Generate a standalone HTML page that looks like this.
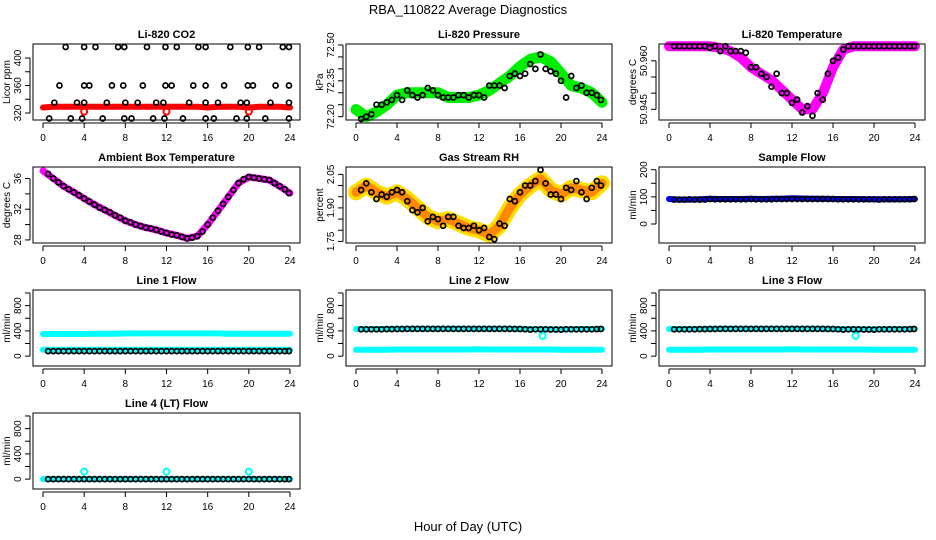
<!DOCTYPE html>
<html><head><meta charset="utf-8">
<style>
html,body{margin:0;padding:0;background:#fff;}
svg{display:block;font-family:"Liberation Sans",Arial,sans-serif;}
</style></head>
<body>
<svg id="chart" width="936" height="540" viewBox="0 0 936 540" xmlns="http://www.w3.org/2000/svg">
<text x="468" y="14" text-anchor="middle" font-size="13">RBA_110822  Average Diagnostics</text>
<text x="468" y="531" text-anchor="middle" font-size="13">Hour of Day (UTC)</text>
</svg>
<script>
// ---- data ----
const xTicks = [0,4,8,12,16,20,24];
const bandHours = [0,1,2,3,4,5,6,7,8,9,10,11,12,13,14,15,16,17,18,19,20,21,22,23,24];
const blackHours = [0.5,1,1.5,2,2.5,3,3.5,4,4.5,5,5.5,6,6.5,7,7.5,8,8.5,9,9.5,10,10.5,11,11.5,12,12.5,13,13.5,14,14.5,15,15.5,16,16.5,17,17.5,18,18.5,19,19.5,20,20.5,21,21.5,22,22.5,23,23.5,23.9];

const co2Band = [328,329,329,329,329,329,329,329,329,329,329,329,329,329,329,329,328,329,329,329,328,329,329,329,328];
const co2BlackHours = [2.2,4,5.1,7.3,7.9,10.1,11.9,13,15.1,15.8,18.2,19.9,21,23.3,23.9,1.6,4,4.5,6.7,7.8,9.7,11.9,12.5,14.6,15.8,17.6,19.9,20.4,22.6,23.9,1.1,3.3,4,6.2,8,9.2,11,11.7,14.2,15.8,17,19.2,19.8,22.1,23.9,0.6,2.7,3.8,5.8,7.9,8.6,10.7,11.8,13.6,15.8,16.6,18.8,19.8,21.6,23.9];
const co2Black = [416,416,416,416,416,416,416,416,416,416,416,416,416,416,416,360,360,360,360,360,360,360,360,360,360,360,360,360,360,360,335,335,335,335,335,335,335,335,335,335,335,335,335,335,335,312,312,312,312,312,312,312,312,312,312,312,312,312,312,312];
const co2OutlierHours = [4,12,20];
const co2Outliers = [322,322,322];

const presBand = [72.23,72.20,72.22,72.25,72.29,72.30,72.30,72.30,72.30,72.28,72.28,72.28,72.29,72.31,72.34,72.37,72.41,72.44,72.45,72.43,72.38,72.33,72.32,72.30,72.26];
const presBlack = [72.19,72.20,72.21,72.25,72.25,72.26,72.27,72.29,72.27,72.31,72.29,72.28,72.29,72.32,72.31,72.29,72.28,72.28,72.28,72.29,72.29,72.28,72.29,72.29,72.28,72.33,72.33,72.33,72.32,72.37,72.38,72.37,72.38,72.42,72.40,72.46,72.40,72.39,72.38,72.35,72.28,72.37,72.32,72.33,72.30,72.30,72.29,72.27];

const tempBand = [50.9645,50.9645,50.9645,50.9645,50.9645,50.964,50.963,50.961,50.958,50.956,50.954,50.951,50.948,50.945,50.945,50.950,50.958,50.9635,50.9645,50.9645,50.9645,50.9645,50.9645,50.9645,50.9645];
const tempBlack = [50.9645,50.9645,50.9645,50.9645,50.9645,50.9645,50.9645,50.964,50.9645,50.963,50.9645,50.963,50.963,50.963,50.9625,50.958,50.958,50.956,50.955,50.952,50.956,50.950,50.950,50.947,50.948,50.944,50.946,50.943,50.950,50.948,50.956,50.960,50.961,50.9635,50.9645,50.9645,50.9645,50.9645,50.9645,50.9645,50.9645,50.9645,50.9645,50.9645,50.9645,50.9645,50.9645,50.9645];

const ambBand = [37.0,36.0,35.0,34.2,33.4,32.6,31.9,31.2,30.5,30.0,29.6,29.3,28.9,28.6,28.2,28.5,30.0,31.8,33.6,35.4,36.2,36.0,35.8,35.0,34.1];
const ambBlack = [36.6,36.0,35.5,35.0,34.6,34.2,33.8,33.4,33.0,32.6,32.2,31.9,31.6,31.2,30.9,30.5,30.3,30.0,29.8,29.6,29.5,29.3,29.1,28.9,28.7,28.6,28.4,28.2,28.3,28.5,29.1,30.0,30.9,31.8,32.7,33.6,34.5,35.4,35.9,36.2,36.1,36.0,35.9,35.8,35.4,35.0,34.6,34.1];

const rhBand = [1.97,2.00,1.97,1.95,1.97,1.94,1.90,1.86,1.84,1.85,1.83,1.81,1.80,1.78,1.82,1.90,1.96,2.00,2.03,1.98,1.96,1.99,1.98,1.97,2.01];
const rhBlack = [1.98,2.01,1.97,1.94,1.96,1.95,1.97,1.98,1.97,1.93,1.89,1.88,1.90,1.84,1.86,1.85,1.82,1.86,1.86,1.82,1.81,1.81,1.82,1.80,1.81,1.77,1.76,1.83,1.82,1.94,1.93,1.97,2.00,2.00,2.02,2.07,2.01,1.96,1.96,1.94,1.99,1.98,2.02,1.97,1.94,1.99,2.02,2.00];

const sampleBand = [92,90,90,91,93,92,92,92,93,92,93,93,95,94,93,93,92,92,92,91,91,91,91,91,92];
const sampleBlack = [90,90,90,91,90,90,90,92,91,91,91,91,91,91,91,92,91,91,91,91,92,92,92,92,92,92,92,92,92,92,92,92,91,91,91,91,91,91,91,91,90,91,91,91,91,91,91,92];

const line1HighBand = [350,350,350,350,350,355,355,355,360,360,360,360,360,360,360,360,360,360,355,355,355,355,355,355,355];
const line1LowBand = [100,100,100,100,100,100,100,100,100,100,100,100,100,100,100,100,100,100,100,100,100,100,100,100,100];
const line1Black = [80,80,80,80,80,80,80,80,80,80,80,80,80,80,80,80,80,80,80,80,80,80,80,80,80,80,80,80,80,80,80,80,80,80,80,80,80,80,80,80,80,80,80,80,80,80,80,80];

const line2HighBand = [430,430,430,430,435,435,435,435,435,435,435,435,435,435,435,435,430,430,425,425,425,425,430,430,430];
const line2LowBand = [100,100,100,100,105,105,105,105,105,105,105,105,110,105,105,105,105,105,105,105,100,100,100,100,100];
const line2Black = [425,425,425,425,425,428,428,430,430,432,432,432,432,432,432,432,432,432,432,432,432,432,432,432,432,432,432,432,432,432,430,430,425,420,425,425,425,422,422,420,425,425,425,425,425,425,428,430];
const line2DipHours = [18.2];
const line2Dip = [320];

const line4Band = [0,0,0,0,0,0,0,0,0,0,0,0,0,0,0,0,0,0,0,0,0,0,0,0,0];
const line4Black = [0,0,0,0,0,0,0,0,0,0,0,0,0,0,0,0,0,0,0,0,0,0,0,0,0,0,0,0,0,0,0,0,0,0,0,0,0,0,0,0,0,0,0,0,0,0,0,0];
const line4SpikeHours = [4,12,20];
const line4Spikes = [120,120,120];

// ---- layout ----
const NS = "http://www.w3.org/2000/svg";
const svg = document.getElementById('chart');
const colL = [33,346,659], colR = [300,612,925];
const rowT = [44,167,290,413], H = 76;

function mk(tag, attrs, parent){
  const e = document.createElementNS(NS, tag);
  for (const k in attrs) e.setAttribute(k, attrs[k]);
  (parent||svg).appendChild(e);
  return e;
}

function panel(o){
  const L = colL[o.col], R = colR[o.col], T = rowT[o.row], B = T + H;
  const g = mk('g', {});
  
  
  const xs = h => (L + 10) + h / 24 * (R - L - 20);
  const ys = v => B - (v - o.ylim[0]) / (o.ylim[1] - o.ylim[0]) * H;
  (o.bands||[]).forEach(b => {
    const pts = b.vals.map((v,i) => xs(bandHours[i]).toFixed(1) + ',' + ys(v).toFixed(1)).join(' ');
    const pl = mk('polyline', {points: pts, fill:'none', stroke:b.color, 'stroke-width':b.w, 'stroke-linecap':'round', 'stroke-linejoin':'round'}, g);
    
    
  });
  (o.extras||[]).forEach(ex => {
    ex.vals.forEach((v,i) => {
      const c = mk('circle', {cx: xs(ex.hours[i]), cy: ys(v), r: 3, fill:'none', stroke: ex.color, 'stroke-width': 2}, g);
      
      
    });
  });
  if (o.black){
    const hrs = o.blackHours || blackHours;
    o.black.forEach((v,i) => {
      const c = mk('circle', {cx: xs(hrs[i]), cy: ys(v), r: 2.5, fill:'none', stroke:'#000', 'stroke-width': 1.7}, g);
      
      
    });
  }
  const box = mk('rect', {x:L, y:T, width:R-L, height:H, fill:'none', stroke:'#000', 'stroke-width':1}, g);
  
  
  const xa = mk('g', {}, g);
  
  
  mk('line', {x1:xs(0), x2:xs(24), y1:B+3, y2:B+3, stroke:'#000'}, xa);
  xTicks.forEach(t => {
    mk('line', {x1:xs(t), x2:xs(t), y1:B+3, y2:B+8, stroke:'#000'}, xa);
    const tx = mk('text', {x:xs(t), y:B+21, 'text-anchor':'middle', 'font-size':10}, xa);
    tx.textContent = t;
    
    
  });
  const ya = mk('g', {}, g);
  
  
  const yt = o.yticks;
  mk('line', {x1:L-3, x2:L-3, y1:ys(yt[0]), y2:ys(yt[yt.length-1]), stroke:'#000'}, ya);
  yt.forEach(t => {
    mk('line', {x1:L-8, x2:L-3, y1:ys(t), y2:ys(t), stroke:'#000'}, ya);
  });
  o.ylabels.forEach(t => {
    const x = L - 12, y = ys(t);
    const tx = mk('text', {x:x, y:y, 'text-anchor':'middle', 'font-size':10, transform:`rotate(-90 ${x} ${y})`}, ya);
    tx.textContent = o.fmt ? o.fmt(t) : t;
    
    
  });
  const yx = L - 23, yy = (T + B) / 2;
  const yl = mk('text', {x:yx, y:yy, 'text-anchor':'middle', 'font-size':10, transform:`rotate(-90 ${yx} ${yy})`}, g);
  yl.textContent = o.ytitle;
  
  
  const ti = mk('text', {x:(L+R)/2, y:T-6, 'text-anchor':'middle', 'font-size':11, 'font-weight':'bold'}, g);
  ti.textContent = o.title;
  
  
}

const flowY = [-156,1047];
panel({name:'co2-panel', col:0,row:0,title:'Li-820 CO2',ytitle:'Licor ppm',ylim:[309.8,420.4],yticks:[320,340,360,380,400],ylabels:[320,360,400],
  bands:[{name:'co2-band',vals:co2Band,color:'#ff0000',w:6}],
  extras:[{name:'co2-outlier',hours:co2OutlierHours,vals:co2Outliers,color:'#ff0000'}],
  black:co2Black, blackHours:co2BlackHours});
panel({name:'pressure-panel', col:1,row:0,title:'Li-820 Pressure',ytitle:'kPa',ylim:[72.186,72.504],yticks:[72.20,72.25,72.30,72.35,72.40,72.45,72.50],ylabels:[72.20,72.35,72.50],fmt:v=>v.toFixed(2),
  bands:[{name:'pressure-band',vals:presBand,color:'#00ee00',w:11}], black:presBlack});
panel({name:'li820-temp-panel', col:2,row:0,title:'Li-820 Temperature',ytitle:'degrees C',ylim:[50.9417,50.9652],yticks:[50.945,50.950,50.955,50.960],ylabels:[50.945,50.960],fmt:v=>v.toFixed(3),
  bands:[{name:'temp-band',vals:tempBand,color:'#ff00ff',w:10}], black:tempBlack});
panel({name:'ambient-temp-panel', col:0,row:1,title:'Ambient Box Temperature',ytitle:'degrees C',ylim:[27.6,37.5],yticks:[28,30,32,34,36],ylabels:[28,32,36],
  bands:[{name:'ambient-band',vals:ambBand,color:'#ff00ff',w:7}], black:ambBlack});
panel({name:'rh-panel', col:1,row:1,title:'Gas Stream RH',ytitle:'percent',ylim:[1.743,2.083],yticks:[1.75,1.80,1.85,1.90,1.95,2.00,2.05],ylabels:[1.75,1.90,2.05],fmt:v=>v.toFixed(2),
  bands:[{name:'rh-band-outer',vals:rhBand,color:'#ffdd00',w:16},{name:'rh-band-inner',vals:rhBand,color:'#ff8800',w:9}], black:rhBlack});
panel({name:'sample-flow-panel', col:2,row:1,title:'Sample Flow',ytitle:'ml/min',ylim:[-70,210],yticks:[0,50,100,150,200],ylabels:[0,100,200],
  bands:[{name:'sample-band',vals:sampleBand,color:'#0000ff',w:6}], black:sampleBlack});
panel({name:'line1-flow-panel', col:0,row:2,title:'Line 1 Flow',ytitle:'ml/min',ylim:flowY,yticks:[0,200,400,600,800,1000],ylabels:[0,400,800],
  bands:[{name:'line1-high-band',vals:line1HighBand,color:'#00ffff',w:6},{name:'line1-low-band',vals:line1LowBand,color:'#00ffff',w:6}], black:line1Black});
panel({name:'line2-flow-panel', col:1,row:2,title:'Line 2 Flow',ytitle:'ml/min',ylim:flowY,yticks:[0,200,400,600,800,1000],ylabels:[0,400,800],
  bands:[{name:'line2-high-band',vals:line2HighBand,color:'#00ffff',w:6},{name:'line2-low-band',vals:line2LowBand,color:'#00ffff',w:6}],
  extras:[{name:'line2-dip',hours:line2DipHours,vals:line2Dip,color:'#00ffff'}], black:line2Black});
panel({name:'line3-flow-panel', col:2,row:2,title:'Line 3 Flow',ytitle:'ml/min',ylim:flowY,yticks:[0,200,400,600,800,1000],ylabels:[0,400,800],
  bands:[{name:'line3-high-band',vals:line2HighBand,color:'#00ffff',w:6},{name:'line3-low-band',vals:line2LowBand,color:'#00ffff',w:6}],
  extras:[{name:'line3-dip',hours:line2DipHours,vals:line2Dip,color:'#00ffff'}], black:line2Black});
panel({name:'line4-flow-panel', col:0,row:3,title:'Line 4 (LT) Flow',ytitle:'ml/min',ylim:flowY,yticks:[0,200,400,600,800,1000],ylabels:[0,400,800],
  bands:[{name:'line4-band',vals:line4Band,color:'#00ffff',w:6}],
  extras:[{name:'line4-spike',hours:line4SpikeHours,vals:line4Spikes,color:'#00ffff'}], black:line4Black});
</script>
</body></html>
